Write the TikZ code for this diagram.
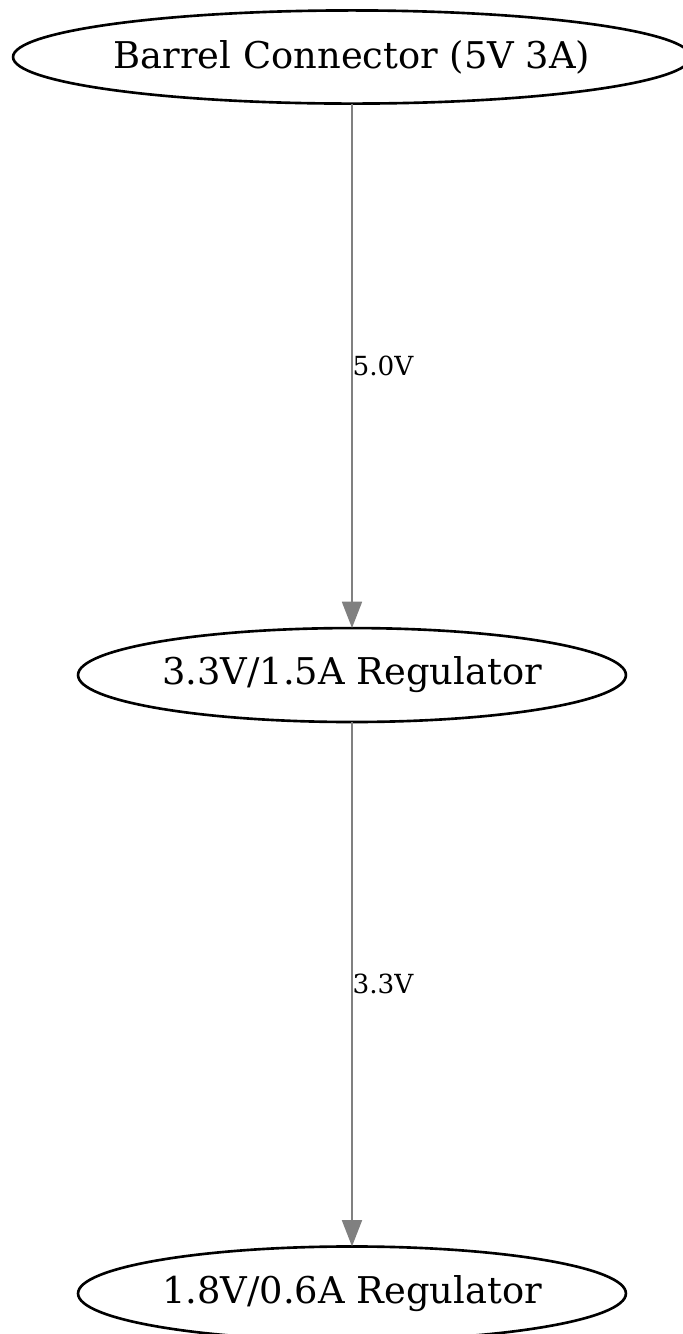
\documentclass[tikz,border=0pt]{standalone}
\usepackage{fontspec}
\setmainfont{DejaVu Serif}
\usepackage{xcolor}
\usepackage{tikz}
\usetikzlibrary{shapes.geometric,arrows.meta,positioning}
\tikzset{
  nodefont/.style={font=\fontsize{14}{17}\selectfont},
  supply/.style={ellipse, draw=black, line width=1pt, outer sep=0pt, inner sep=0pt, align=center, minimum width=257.6pt, minimum height=35.4pt},
  reg/.style={ellipse, draw=black, line width=1pt, outer sep=0pt, inner sep=0pt, align=center, minimum width=208.2pt, minimum height=35.7pt},
  railarr/.style={-{Triangle[length=10pt,width=7.5pt]}, line width=1pt, draw=gray},
  rlbl/.style={font=\fontsize{10}{12}\selectfont, anchor=west, inner sep=0pt, xshift=-0.3pt},
}
\begin{document}
\begin{tikzpicture}[node distance=199.3pt, nodefont]
  \useasboundingbox (-133.76pt,21.66pt) rectangle (125.78pt,-485.26pt);
  \node[supply] (barrel) {Barrel Connector (5V 3A)};
  \node[reg, below=of barrel] (reg33) {3.3V/1.5A Regulator};
  \node[reg, below=of reg33] (reg18) {1.8V/0.6A Regulator};
  \draw[railarr] (barrel) -- node[rlbl] {5.0V} (reg33);
  \draw[railarr] (reg33) -- node[rlbl] {3.3V} (reg18);
\end{tikzpicture}
\end{document}
